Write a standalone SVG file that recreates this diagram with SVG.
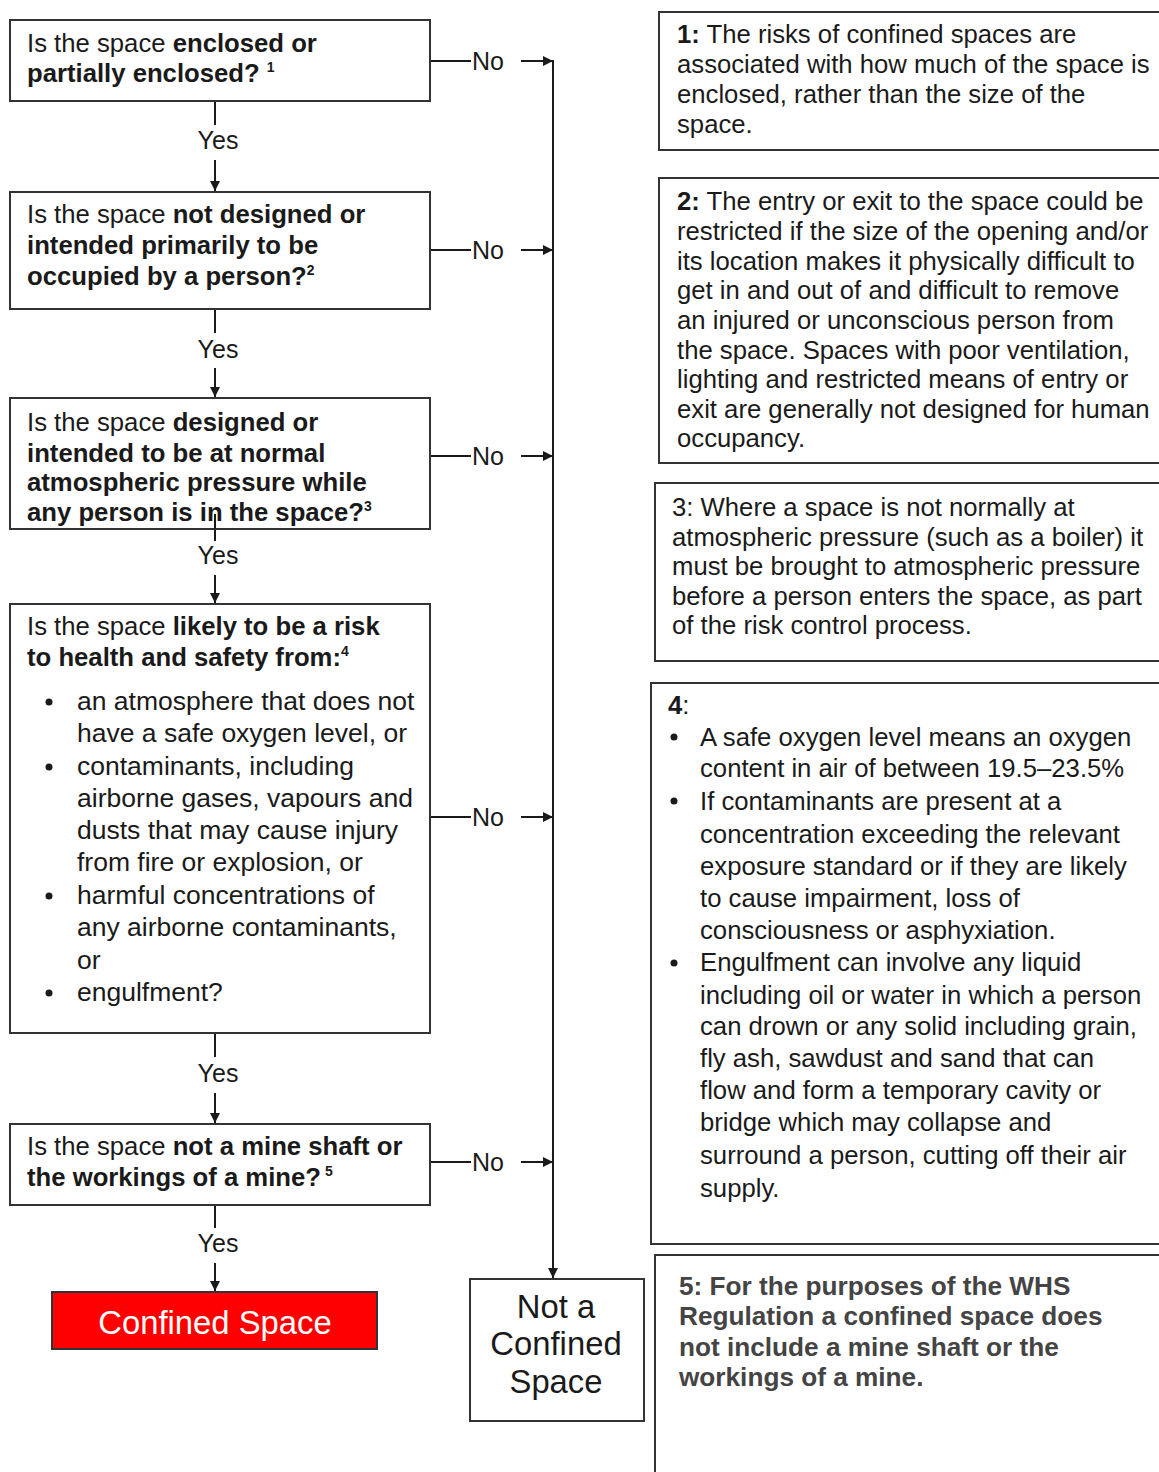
<svg xmlns="http://www.w3.org/2000/svg" width="1159" height="1472" viewBox="0 0 1159 1472">
<defs>
<marker id="ah" viewBox="0 0 10 10" refX="10" refY="5" markerWidth="12" markerHeight="10" markerUnits="userSpaceOnUse" orient="auto">
<path d="M0,0 L10,5 L0,10 z" fill="#1a1a1a"/>
</marker>
<style>
text{font-family:"Liberation Sans",Arial,sans-serif;font-size:25.7px;fill:#1a1a1a;}
.b{font-weight:bold;}
.box{fill:#fff;stroke:#333;stroke-width:2;}
.ln{stroke:#1a1a1a;stroke-width:2;fill:none;}
.sup{font-size:14px;font-weight:bold;}
.big{font-size:32.8px;}
.bl{font-size:26.5px;}
.n5{font-weight:bold;fill:#444;font-size:26.2px;}
.lbl{font-size:25px;}
</style>
</defs>
<rect width="1159" height="1472" fill="#fff"/>

<g id="connectors">
<line class="ln" x1="215" y1="101" x2="215" y2="125"/>
<line class="ln" x1="215" y1="160" x2="215" y2="191" marker-end="url(#ah)"/>
<line class="ln" x1="215" y1="309" x2="215" y2="333"/>
<line class="ln" x1="215" y1="368" x2="215" y2="397" marker-end="url(#ah)"/>
<line class="ln" x1="215" y1="514" x2="215" y2="541"/>
<line class="ln" x1="215" y1="575" x2="215" y2="603" marker-end="url(#ah)"/>
<line class="ln" x1="215" y1="1033" x2="215" y2="1057"/>
<line class="ln" x1="215" y1="1093" x2="215" y2="1123" marker-end="url(#ah)"/>
<line class="ln" x1="215" y1="1205" x2="215" y2="1228"/>
<line class="ln" x1="215" y1="1263" x2="215" y2="1291" marker-end="url(#ah)"/>
<text class="lbl" x="218" y="149" text-anchor="middle">Yes</text>
<text class="lbl" x="218" y="358" text-anchor="middle">Yes</text>
<text class="lbl" x="218" y="564" text-anchor="middle">Yes</text>
<text class="lbl" x="218" y="1082" text-anchor="middle">Yes</text>
<text class="lbl" x="218" y="1252" text-anchor="middle">Yes</text>

<line class="ln" x1="430" y1="61" x2="471" y2="61"/>
<line class="ln" x1="521" y1="61" x2="553" y2="61" marker-end="url(#ah)"/>
<line class="ln" x1="430" y1="250" x2="471" y2="250"/>
<line class="ln" x1="521" y1="250" x2="553" y2="250" marker-end="url(#ah)"/>
<line class="ln" x1="430" y1="456" x2="471" y2="456"/>
<line class="ln" x1="521" y1="456" x2="553" y2="456" marker-end="url(#ah)"/>
<line class="ln" x1="430" y1="817" x2="471" y2="817"/>
<line class="ln" x1="521" y1="817" x2="553" y2="817" marker-end="url(#ah)"/>
<line class="ln" x1="430" y1="1162" x2="471" y2="1162"/>
<line class="ln" x1="521" y1="1162" x2="553" y2="1162" marker-end="url(#ah)"/>
<text class="lbl" x="472" y="70">No</text>
<text class="lbl" x="472" y="259">No</text>
<text class="lbl" x="472" y="465">No</text>
<text class="lbl" x="472" y="826">No</text>
<text class="lbl" x="472" y="1171">No</text>
<line class="ln" x1="553" y1="60" x2="553" y2="1278" marker-end="url(#ah)"/>
</g>

<g id="q1">
<rect class="box" x="10" y="20" width="420" height="81"/>
<text x="27" y="52">Is the space <tspan class="b">enclosed or</tspan></text>
<text x="27" y="82" class="b">partially enclosed? <tspan class="sup" dy="-10">1</tspan></text>
</g>

<g id="q2">
<rect class="box" x="10" y="192" width="420" height="117"/>
<text x="27" y="223">Is the space <tspan class="b">not designed or</tspan></text>
<text x="27" y="254" class="b">intended primarily to be</text>
<text x="27" y="285" class="b">occupied by a person?<tspan class="sup" dy="-10">2</tspan></text>
</g>

<g id="q3">
<rect class="box" x="10" y="398" width="420" height="131"/>
<text x="27" y="431">Is the space <tspan class="b">designed or</tspan></text>
<text x="27" y="462" class="b">intended to be at normal</text>
<text x="27" y="491" class="b">atmospheric pressure while</text>
<text x="27" y="521" class="b">any person is in the space?<tspan class="sup" dy="-10">3</tspan></text>
<line class="ln" x1="215" y1="514" x2="215" y2="529"/>
</g>

<g id="q4">
<rect class="box" x="10" y="604" width="420" height="429"/>
<text x="27" y="635">Is the space <tspan class="b">likely to be a risk</tspan></text>
<text x="27" y="666" class="b">to health and safety from:<tspan class="sup" dy="-10">4</tspan></text>
<circle cx="49" cy="702" r="3.5" fill="#1a1a1a"/>
<circle cx="49" cy="767" r="3.5" fill="#1a1a1a"/>
<circle cx="49" cy="896" r="3.5" fill="#1a1a1a"/>
<circle cx="49" cy="993" r="3.5" fill="#1a1a1a"/>
<text class="bl" x="77" y="710">an atmosphere that does not</text>
<text class="bl" x="77" y="742">have a safe oxygen level, or</text>
<text class="bl" x="77" y="775">contaminants, including</text>
<text class="bl" x="77" y="807">airborne gases, vapours and</text>
<text class="bl" x="77" y="839">dusts that may cause injury</text>
<text class="bl" x="77" y="871">from fire or explosion, or</text>
<text class="bl" x="77" y="904">harmful concentrations of</text>
<text class="bl" x="77" y="936">any airborne contaminants,</text>
<text class="bl" x="77" y="969">or</text>
<text class="bl" x="77" y="1001">engulfment?</text>
</g>

<g id="q5">
<rect class="box" x="10" y="1124" width="420" height="81"/>
<text x="27" y="1155">Is the space <tspan class="b">not a mine shaft or</tspan></text>
<text x="27" y="1186" class="b">the workings of a mine?<tspan class="sup" dy="-10"> 5</tspan></text>
</g>

<g id="confined">
<rect x="52" y="1292" width="325" height="57" fill="#ff0000" stroke="#333" stroke-width="2"/>
<text x="215" y="1334" text-anchor="middle" class="big" style="fill:#fff">Confined Space</text>
</g>

<g id="notconfined">
<rect class="box" x="470" y="1279" width="174" height="142"/>
<text x="556" y="1318" text-anchor="middle" class="big">Not a</text>
<text x="556" y="1355" text-anchor="middle" class="big">Confined</text>
<text x="556" y="1393" text-anchor="middle" class="big">Space</text>
</g>

<g id="note1">
<rect class="box" x="659" y="12" width="510" height="138"/>
<text x="677" y="43"><tspan class="b">1:</tspan> The risks of confined spaces are</text>
<text x="677" y="73">associated with how much of the space is</text>
<text x="677" y="103">enclosed, rather than the size of the</text>
<text x="677" y="133">space.</text>
</g>

<g id="note2">
<rect class="box" x="659" y="178" width="510" height="285"/>
<text x="677" y="210"><tspan class="b">2:</tspan> The entry or exit to the space could be</text>
<text x="677" y="240">restricted if the size of the opening and/or</text>
<text x="677" y="270">its location makes it physically difficult to</text>
<text x="677" y="299">get in and out of and difficult to remove</text>
<text x="677" y="329">an injured or unconscious person from</text>
<text x="677" y="359">the space. Spaces with poor ventilation,</text>
<text x="677" y="388">lighting and restricted means of entry or</text>
<text x="677" y="418">exit are generally not designed for human</text>
<text x="677" y="447">occupancy.</text>
</g>

<g id="note3">
<rect class="box" x="655" y="483" width="514" height="178"/>
<text x="672" y="516">3: Where a space is not normally at</text>
<text x="672" y="546">atmospheric pressure (such as a boiler) it</text>
<text x="672" y="575">must be brought to atmospheric pressure</text>
<text x="672" y="605">before a person enters the space, as part</text>
<text x="672" y="634">of the risk control process.</text>
</g>

<g id="note4">
<rect class="box" x="651" y="683" width="518" height="561"/>
<text x="668" y="714"><tspan class="b">4</tspan>:</text>
<circle cx="674" cy="737" r="3.5" fill="#1a1a1a"/>
<circle cx="674" cy="801" r="3.5" fill="#1a1a1a"/>
<circle cx="674" cy="963" r="3.5" fill="#1a1a1a"/>
<text x="700" y="746">A safe oxygen level means an oxygen</text>
<text x="700" y="777">content in air of between 19.5–23.5%</text>
<text x="700" y="810">If contaminants are present at a</text>
<text x="700" y="843">concentration exceeding the relevant</text>
<text x="700" y="875">exposure standard or if they are likely</text>
<text x="700" y="907">to cause impairment, loss of</text>
<text x="700" y="939">consciousness or asphyxiation.</text>
<text x="700" y="971">Engulfment can involve any liquid</text>
<text x="700" y="1004">including oil or water in which a person</text>
<text x="700" y="1035">can drown or any solid including grain,</text>
<text x="700" y="1067">fly ash, sawdust and sand that can</text>
<text x="700" y="1099">flow and form a temporary cavity or</text>
<text x="700" y="1131">bridge which may collapse and</text>
<text x="700" y="1164">surround a person, cutting off their air</text>
<text x="700" y="1197">supply.</text>
</g>

<g id="note5">
<rect class="box" x="655" y="1255" width="514" height="230"/>
<text x="679" y="1295" class="n5">5: For the purposes of the WHS</text>
<text x="679" y="1325" class="n5">Regulation a confined space does</text>
<text x="679" y="1356" class="n5">not include a mine shaft or the</text>
<text x="679" y="1386" class="n5">workings of a mine.</text>
</g>
</svg>
